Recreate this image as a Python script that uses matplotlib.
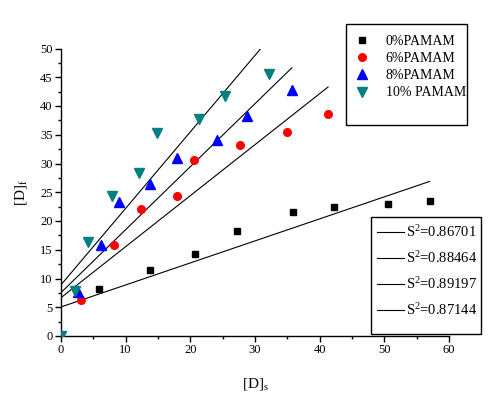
import matplotlib
matplotlib.use("Agg")
import matplotlib.pyplot as plt
import numpy as np
from matplotlib.patches import Rectangle
from matplotlib.ticker import MultipleLocator

plt.rcParams['font.family'] = ['Liberation Serif', 'DejaVu Serif']
plt.rcParams['mathtext.fontset'] = 'custom'
plt.rcParams['mathtext.rm'] = 'Liberation Serif'
plt.rcParams['mathtext.it'] = 'Liberation Serif:italic'

# data
x0 = [5.8, 13.7, 20.7, 27.2, 35.8, 42.2, 50.5, 57.0]
y0 = [8.2, 11.4, 14.2, 18.3, 21.6, 22.4, 22.9, 23.5]
x6 = [3.1, 8.2, 12.3, 18.0, 20.5, 27.7, 35.0, 41.3]
y6 = [6.2, 15.8, 22.1, 24.3, 30.6, 33.2, 35.5, 38.6]
x8 = [0.0, 2.6, 6.2, 8.9, 13.7, 17.9, 24.2, 28.8, 35.7]
y8 = [0.0, 7.7, 15.8, 23.3, 26.4, 31.0, 34.1, 38.3, 42.7]
x10 = [0.0, 2.1, 4.2, 7.9, 12.1, 14.9, 21.3, 25.3, 32.2]
y10 = [0.0, 7.8, 16.4, 24.3, 28.3, 35.3, 37.8, 41.8, 45.6]

series_labels = ['0%PAMAM', '6%PAMAM', '8%PAMAM', '10% PAMAM']
fit_intercepts = [5.05, 6.67, 7.55, 8.9]
fit_slopes = [0.383, 0.887, 1.095, 1.33]
fit_xmax = [57.0, 41.3, 35.7, 32.2]
fit_labels = ['0.86701', '0.88464', '0.89197', '0.87144']

fig = plt.figure(figsize=(4.95, 3.99), dpi=100)
ax = fig.add_axes([61/495, 1-336/399, (449-61)/495, (336-48.5)/399])

# fit lines
line_handles = []
for b, m, xm in zip(fit_intercepts, fit_slopes, fit_xmax):
    xs = np.array([0.0, xm])
    h, = ax.plot(xs, b + m*xs, color='black', lw=0.8, zorder=2)
    line_handles.append(h)

h0, = ax.plot(x0, y0, 's', color='black', ms=5, ls='none', zorder=3)
h6, = ax.plot(x6, y6, 'o', color='red', ms=5.5, ls='none', zorder=3)
h8, = ax.plot(x8, y8, '^', color='blue', ms=7, ls='none', zorder=3)
h10, = ax.plot(x10, y10, 'v', color='#008080', ms=7, ls='none', zorder=3)

ax.set_xlim(0, 60)
ax.set_ylim(0, 50)
ax.xaxis.set_major_locator(MultipleLocator(10))
ax.xaxis.set_minor_locator(MultipleLocator(5))
ax.yaxis.set_major_locator(MultipleLocator(5))
ax.yaxis.set_minor_locator(MultipleLocator(2.5))
ax.spines['top'].set_visible(False)
ax.spines['right'].set_visible(False)
for s in ['left', 'bottom']:
    ax.spines[s].set_linewidth(1.0)
ax.tick_params(which='major', direction='out', length=4, width=1, labelsize=9, pad=2)
ax.tick_params(which='minor', direction='out', length=2.5, width=1)

ax.set_xlabel(r'[D]$_\mathrm{s}$', fontsize=11, labelpad=14)
ax.set_ylabel(r'[D]$_\mathrm{f}$', fontsize=11, labelpad=8)

# legend 1 box
r1 = Rectangle((346/495, 1-125/399), 121/495, 101/399,
               transform=fig.transFigure, facecolor='white',
               edgecolor='black', lw=1.0, zorder=5, clip_on=False)
ax.add_patch(r1)
leg1 = ax.legend([h0, h6, h8, h10], series_labels, loc='upper left',
                 bbox_to_anchor=(355/495, 1-35/399), bbox_transform=fig.transFigure,
                 frameon=False, fontsize=10, handlelength=1.0, handletextpad=1.2,
                 labelspacing=0.3, borderpad=0, borderaxespad=0)
leg1.set_zorder(6)
ax.add_artist(leg1)

# legend 2 box
r2 = Rectangle((371/495, 1-334/399), 110/495, 117/399,
               transform=fig.transFigure, facecolor='white',
               edgecolor='black', lw=1.0, zorder=5, clip_on=False)
ax.add_patch(r2)
leg2 = ax.legend(line_handles, [r'S$^{2}$=' + v for v in fit_labels], loc='upper left',
                 bbox_to_anchor=(377/495, 1-224/399), bbox_transform=fig.transFigure,
                 frameon=False, fontsize=10.5, handlelength=1.85, handletextpad=0.15,
                 labelspacing=0.7, borderpad=0, borderaxespad=0)
leg2.set_zorder(6)

fig.savefig('out.png', dpi=100)
